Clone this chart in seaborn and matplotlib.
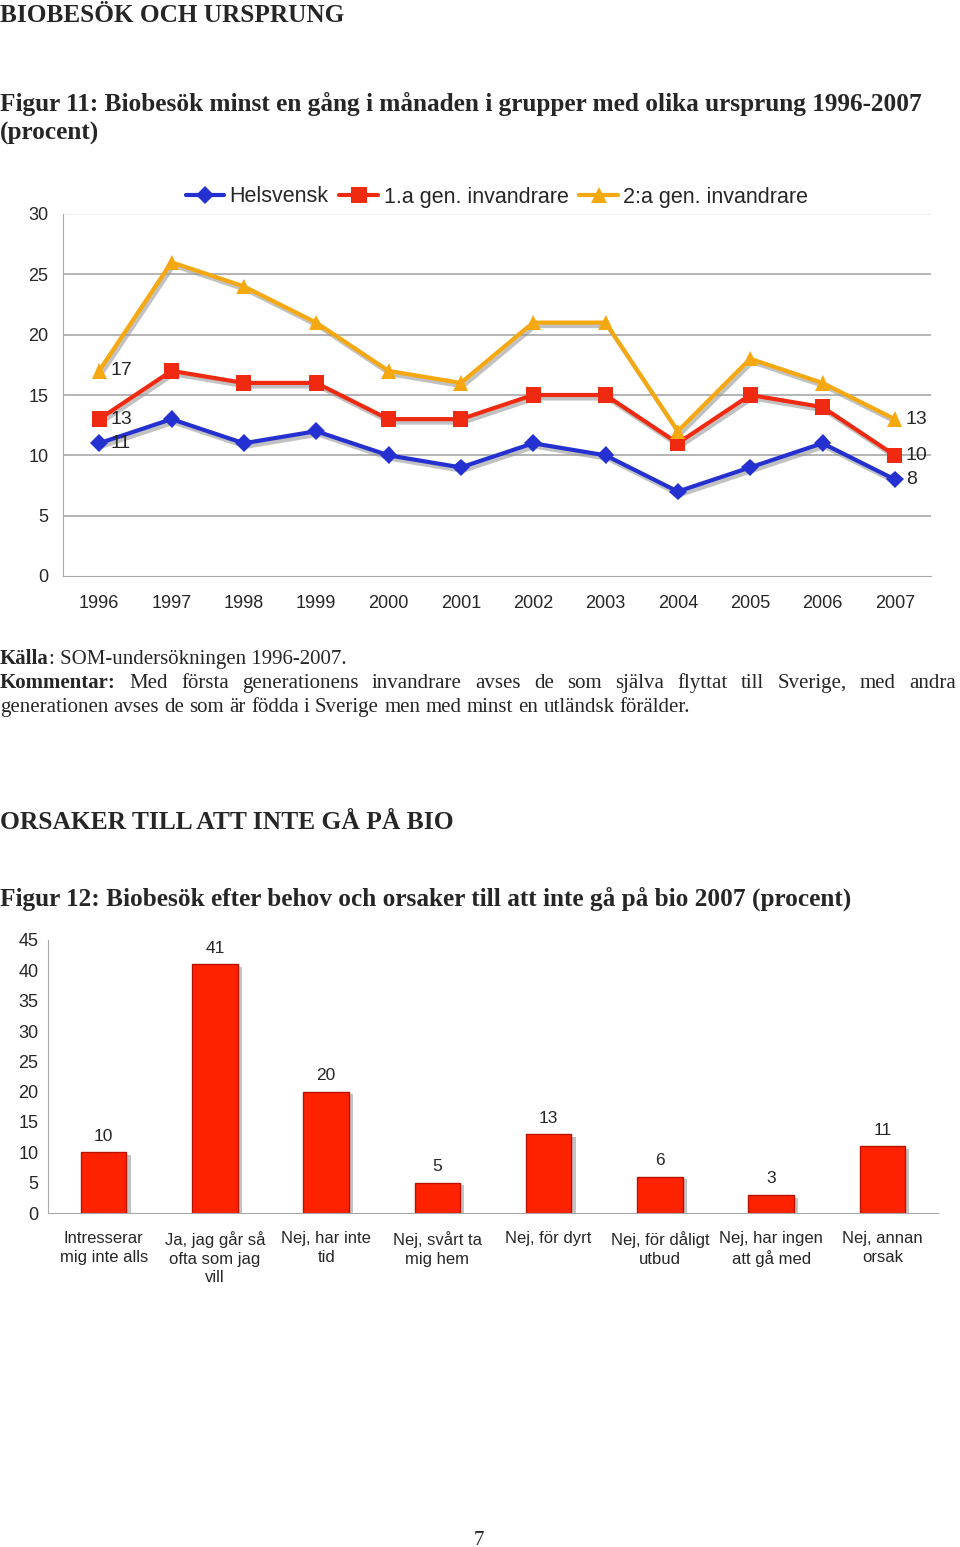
import pandas as pd
import matplotlib
matplotlib.use("Agg")
import matplotlib.pyplot as plt
import matplotlib.patheffects as pe
import seaborn as sns

# data
years = [1996, 1997, 1998, 1999, 2000, 2001, 2002, 2003, 2004, 2005, 2006, 2007]
helsvensk = [11, 13, 11, 12, 10, 9, 11, 10, 7, 9, 11, 8]
gen1 = [13, 17, 16, 16, 13, 13, 15, 15, 11, 15, 14, 10]
gen2 = [17, 26, 24, 21, 17, 16, 21, 21, 12, 18, 16, 13]
groups = ["Helsvensk", "1.a gen. invandrare", "2:a gen. invandrare"]

reasons = ["Intresserar\nmig inte alls", "Ja, jag går så\nofta som jag\nvill",
           "Nej, har inte\ntid", "Nej, svårt ta\nmig hem", "Nej, för dyrt",
           "Nej, för dåligt\nutbud", "Nej, har ingen\natt gå med", "Nej, annan\norsak"]
reason_pct = [10, 41, 20, 5, 13, 6, 3, 11]

sns.set_style("white")
plt.rcParams["font.family"] = ["Liberation Sans", "DejaVu Sans"]

W, H = 960, 1547
fig = plt.figure(figsize=(W / 100, H / 100), dpi=100)


def fx(x):
    return x / W


def fy(y):
    return 1 - y / H


SERIF = ["Liberation Serif", "DejaVu Serif"]

# headings
fig.text(fx(0), fy(22), "BIOBESÖK OCH URSPRUNG", family=SERIF, weight="bold", size=18.2)
fig.text(fx(0), fy(111), "Figur 11: Biobesök minst en gång i månaden i grupper med olika ursprung 1996-2007",
         family=SERIF, weight="bold", size=18.2)
fig.text(fx(0), fy(140), "(procent)", family=SERIF, weight="bold", size=18.2)
fig.text(fx(0), fy(829), "ORSAKER TILL ATT INTE GÅ PÅ BIO", family=SERIF, weight="bold", size=18.4)
fig.text(fx(0), fy(906), "Figur 12: Biobesök efter behov och orsaker till att inte gå på bio 2007 (procent)",
         family=SERIF, weight="bold", size=18.2)
fig.text(fx(479), fy(1545), "7", family=SERIF, size=15, ha="center")

# ---- line chart
colors = {"Helsvensk": "#2430D0", "1.a gen. invandrare": "#F02A10", "2:a gen. invandrare": "#F5A810"}
markers = {"Helsvensk": "D", "1.a gen. invandrare": "s", "2:a gen. invandrare": "^"}
df = pd.DataFrame({
    "år": years * 3,
    "procent": helsvensk + gen1 + gen2,
    "grupp": [g for g in groups for _ in years],
})

ax1 = fig.add_axes([fx(63), fy(576), fx(931) - fx(63), fy(214) - fy(576)])
sns.lineplot(data=df, x="år", y="procent", hue="grupp", style="grupp", markers=markers,
             dashes=False, palette=colors, lw=3, markersize=11, markeredgewidth=0, ax=ax1)
for ln in ax1.lines:
    ln.set_path_effects([pe.SimpleLineShadow(offset=(1.5, -2.5), shadow_color="#999999", alpha=0.6), pe.Normal()])
    if ln.get_marker() == "D":
        ln.set_markersize(9)

ax1.set_xlim(1995.5, 2007.5)
ax1.set_ylim(0, 30)
ax1.set_yticks(range(0, 31, 5))
for v in range(5, 30, 5):
    ax1.axhline(v, color="#A8A8A8", lw=1.2, zorder=0)
ax1.axhline(30, color="#EEEEEE", lw=1.5, zorder=0)
ax1.set_xticks(years)
ax1.set_xticks([y + 0.5 for y in [1995] + years], minor=True)
ax1.tick_params(axis="x", which="major", length=0, pad=14, labelsize=13)
ax1.tick_params(axis="x", which="minor", length=6, color="#A8A8A8", width=1)
ax1.tick_params(axis="y", length=3, color="#A8A8A8", pad=7.5, labelsize=13)
for s in ["top", "right"]:
    ax1.spines[s].set_visible(False)
for s in ["left", "bottom"]:
    ax1.spines[s].set_color("#A8A8A8")
ax1.set_xlabel("")
ax1.set_ylabel("")

for series in (helsvensk, gen1, gen2):
    for i in (0, -1):
        ax1.annotate(str(series[i]), (years[i], series[i]), xytext=(8, 0), textcoords="offset points",
                     va="center", ha="left", size=14)

handles, labels = ax1.get_legend_handles_labels()
for h in handles:
    h.set_path_effects([])
ax1.legend_.remove()
fig.legend(handles, labels, loc="center", bbox_to_anchor=(fx(497), fy(197)), ncol=3, frameon=False,
           fontsize=15.5, handlelength=1.8, handletextpad=0.25, columnspacing=0.5)

# ---- comment text
def place_runs(runs, x0, ybase, size, x1=None):
    """runs: list of (word, bold). Justify between x0 and x1 if given."""
    r = fig.canvas.get_renderer()
    texts = []
    for word, bold in runs:
        t = fig.text(0, fy(ybase), word, family=SERIF, size=size, weight="bold" if bold else "normal")
        texts.append(t)
    widths = [t.get_window_extent(r).width for t in texts]
    if x1 is None:
        space = fig.text(0, 0, "a a", family=SERIF, size=size).get_window_extent(r).width - \
            fig.text(0, 0, "aa", family=SERIF, size=size).get_window_extent(r).width
        fig.texts[-2:] = []
        gaps = [0 if runs[i + 1][0].startswith(":") else space for i in range(len(runs) - 1)]
    else:
        g = (x1 - x0 - sum(widths)) / (len(runs) - 1)
        gaps = [g] * (len(runs) - 1)
    x = x0
    for i, t in enumerate(texts):
        t.set_x(fx(x))
        x += widths[i] + (gaps[i] if i < len(gaps) else 0)


place_runs([("Källa", True), (": SOM-undersökningen 1996-2007.", False)], 0, 664, 15)
line1 = "Med första generationens invandrare avses de som själva flyttat till Sverige, med andra".split()
place_runs([("Kommentar:", True)] + [(w, False) for w in line1], 0, 688, 15, x1=956)
place_runs([(w, False) for w in "generationen avses de som är födda i Sverige men med minst en utländsk förälder.".split()],
           0, 712, 15)

# ---- bar chart
ax2 = fig.add_axes([fx(48), fy(1213), fx(938) - fx(48), fy(940) - fy(1213)])
sns.barplot(x=reasons, y=reason_pct, color="#FF2200", saturation=1, width=0.41,
            edgecolor="#B81200", linewidth=1, ax=ax2)
for p in ax2.patches:
    p.set_path_effects([pe.SimplePatchShadow(offset=(3, -2), shadow_rgbFace="#888888", alpha=0.5), pe.Normal()])
ax2.bar_label(ax2.containers[0], padding=6, fontsize=12.5)
ax2.set_xlim(-0.5, len(reasons) - 0.5)
ax2.set_ylim(0, 45)
ax2.set_yticks(range(0, 46, 5))
ax2.set_xticks([i - 0.5 for i in range(len(reasons) + 1)], minor=True)
ax2.tick_params(axis="x", which="major", length=0, pad=13, labelsize=12)
ax2.tick_params(axis="x", which="minor", length=6, color="#A8A8A8")
ax2.tick_params(axis="y", length=4, color="#A8A8A8", pad=3, labelsize=13)
for s in ["top", "right"]:
    ax2.spines[s].set_visible(False)
for s in ["left", "bottom"]:
    ax2.spines[s].set_color("#A8A8A8")
for lab in ax2.get_xticklabels():
    lab.set_linespacing(1.3)

fig.savefig("out.png", dpi=100)
